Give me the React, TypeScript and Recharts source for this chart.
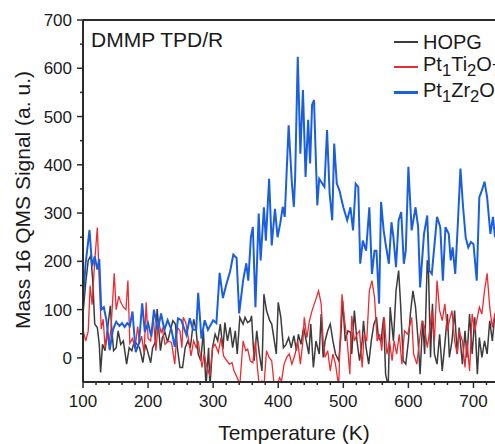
import React from 'react'
import { LineChart, Line, XAxis, YAxis, ReferenceLine } from 'recharts'

// [temperature (K), signal (a. u.)]
const hopg: [number, number][] = [
  [100, 91], [104, 153], [108, 202], [112, 212], [115, 160], [118, 70], [122, 63], [125, 28], [127, -30], [130, 28],
  [134, 15], [138, 63], [142, 108], [144, 63], [147, 15], [151, 21], [154, 56], [158, 28], [162, 35], [167, -13],
  [171, 21], [175, 15], [179, 35], [183, 28], [187, 21], [192, -10], [196, 28], [199, 15], [204, -10], [207, 21],
  [211, 32], [214, 101], [219, 15], [222, 42], [226, 53], [230, 32], [234, 56], [238, 77], [242, 70], [245, 21],
  [249, -20], [253, -20], [257, 21], [261, 35], [265, 21], [270, 80], [274, 56], [277, 8], [281, -6], [285, 56],
  [289, -60], [293, 21], [295, -60], [299, 21], [303, 49], [307, 35], [311, 70], [315, 18], [318, 73], [322, 35],
  [326, 63], [330, 21], [334, 56], [337, 8], [341, 84], [346, 70], [349, 84], [353, 73], [357, 77], [359, 87],
  [363, -6], [367, 56], [371, 8], [375, -27], [378, 132], [382, 98], [387, 77], [390, 70], [394, 35], [397, 8],
  [400, 115], [404, 84], [408, 21], [412, 28], [416, 42], [420, 21], [424, 46], [428, 15], [431, 49], [435, 28],
  [439, 63], [443, 35], [447, 8], [450, 70], [454, -20], [458, 35], [463, 8], [466, 91], [469, 1], [472, 35],
  [476, 56], [480, 70], [484, 35], [488, 8], [493, -6], [496, 42], [499, 118], [503, 35], [507, 56], [511, 53],
  [513, 8], [517, 98], [521, 35], [525, -6], [529, 35], [531, 77], [535, 21], [539, -13], [543, 35], [547, 70],
  [551, 84], [554, 42], [558, 35], [562, 84], [565, -34], [569, -60], [572, 105], [577, 35], [581, 139], [585, 181],
  [588, 112], [592, -6], [596, -13], [600, 35], [603, 91], [607, 139], [611, 105], [615, 35], [618, -34], [622, 77],
  [625, 8], [629, 202], [631, 174], [634, 1], [637, 112], [640, 8], [644, -13], [648, 49], [652, -27], [656, 28],
  [660, 91], [663, 1], [667, 35], [671, 98], [675, 8], [678, 63], [683, -13], [687, 56], [690, 1], [694, 91],
  [698, 8], [702, 84], [706, -34], [709, 42], [713, 1], [717, 35], [721, 8], [725, 77], [729, 35], [733, 91],
  [738, 30], [744, 110], [750, 60],
]

const ptTi: [number, number][] = [
  [100, 58], [104, 35], [108, 55], [111, 150], [114, 110], [118, 200], [122, 270], [125, 160], [128, 60], [131, 80],
  [134, 20], [137, 55], [140, 30], [143, 60], [148, 175], [151, 100], [155, 128], [158, 115], [162, 105], [166, 100],
  [169, 160], [172, 30], [176, 40], [180, 20], [184, 65], [187, 30], [190, 45], [194, 10], [197, 115], [200, 40],
  [204, 35], [208, 85], [212, 15], [216, 75], [220, 53], [222, 60], [226, 28], [231, 35], [236, 32], [241, -13],
  [245, 63], [249, 56], [252, 21], [254, 84], [258, 73], [262, 40], [266, 4], [270, 35], [274, 21], [277, 35],
  [280, 8], [283, -20], [286, 8], [290, -17], [295, -37], [299, 21], [303, 28], [308, 11], [312, 42], [316, 4],
  [321, -6], [325, -13], [329, -10], [332, -27], [337, -41], [341, -55], [346, 35], [350, 15], [353, 18], [357, -6],
  [361, -10], [365, 35], [368, -20], [371, -60], [375, -48], [378, -60], [382, 15], [386, 1], [390, -6], [394, -60],
  [398, -60], [402, -41], [405, -48], [409, -13], [413, 1], [417, 8], [421, -13], [426, 8], [430, 35], [434, -13],
  [438, 35], [440, 84], [444, 42], [448, 77], [452, 98], [457, 118], [462, 139], [466, 112], [469, 35], [472, 1],
  [476, 15], [480, -27], [484, 8], [488, -13], [493, -60], [495, 35], [498, 132], [502, 77], [506, 35], [510, -34],
  [513, 87], [517, 35], [521, 49], [525, 56], [529, -20], [532, 49], [536, 35], [540, 139], [544, 160], [548, 125],
  [552, 35], [556, 49], [559, 15], [563, 84], [567, 8], [571, 35], [575, -6], [578, 35], [582, 8], [586, 49],
  [590, -13], [594, 56], [599, 49], [605, 84], [608, 8], [613, -13], [617, 35], [621, 77], [625, 63], [629, 21],
  [632, 49], [636, 98], [640, 35], [644, 160], [648, 98], [652, 77], [656, 112], [660, 56], [663, 77], [667, 98],
  [671, 35], [675, 8], [678, 56], [683, 35], [687, -20], [690, 35], [694, -27], [698, 91], [702, 56], [706, 84],
  [709, 105], [713, 91], [717, 139], [721, 175], [725, 105], [729, 63], [733, 91], [738, 120], [744, 80], [750, 100],
]

const ptZr: [number, number][] = [
  [100, 120], [104, 195], [110, 265], [114, 190], [118, 210], [122, 183], [125, 205], [128, 100], [132, 105], [136, 78],
  [141, 16], [146, 58], [151, 75], [156, 66], [160, 72], [164, 64], [168, 72], [172, 66], [176, 96], [181, 12],
  [186, 30], [191, 113], [195, 54], [200, 72], [205, 44], [209, 100], [215, 58], [220, 92], [225, 58], [230, 78],
  [236, 58], [241, 23], [246, 82], [251, 78], [259, 47], [264, 82], [269, 58], [274, 58], [277, 135], [282, 40],
  [287, 78], [292, 58], [300, 78], [305, 72], [310, 176], [315, 124], [320, 151], [326, 179], [331, 214], [336, 207],
  [340, 92], [346, 160], [351, 196], [354, 160], [358, 250], [361, 271], [365, 105], [370, 299], [373, 202], [378, 312],
  [381, 243], [386, 371], [390, 233], [395, 309], [399, 250], [403, 278], [407, 313], [410, 292], [416, 482], [421, 361],
  [424, 313], [426, 375], [430, 624], [434, 423], [438, 555], [442, 375], [446, 493], [449, 403], [452, 524], [455, 534],
  [460, 316], [463, 371], [469, 358], [471, 354], [475, 472], [479, 340], [483, 285], [486, 444], [490, 361], [494, 347],
  [500, 312], [506, 285], [511, 312], [515, 264], [519, 361], [523, 354], [526, 195], [530, 243], [535, 222], [540, 312],
  [544, 174], [548, 222], [551, 222], [555, 112], [558, 323], [562, 264], [565, 236], [570, 195], [574, 281], [577, 250],
  [581, 188], [585, 285], [589, 302], [593, 195], [596, 222], [600, 396], [605, 264], [611, 312], [615, 271], [618, 146],
  [624, 257], [629, 295], [632, 181], [636, 174], [644, 292], [649, 271], [653, 160], [657, 271], [662, 257], [665, 202],
  [668, 229], [672, 174], [676, 278], [680, 392], [684, 313], [688, 250], [692, 229], [696, 240], [700, 236], [705, 160],
  [709, 333], [713, 347], [717, 365], [721, 333], [726, 257], [730, 292], [733, 250], [738, 300], [744, 270], [750, 290],
]

const xTicks = [100, 120, 140, 160, 180, 200, 220, 240, 260, 280, 300, 320, 340, 360, 380, 400, 420, 440, 460, 480, 500,
  520, 540, 560, 580, 600, 620, 640, 660, 680, 700, 720, 740]
const yTicks = [0, 50, 100, 150, 200, 250, 300, 350, 400, 450, 500, 550, 600, 650, 700]

const FONT = '"Liberation Sans", Arial, sans-serif'
const AXIS = '#2b2b2b'
const TICK = 6
const GAP = 5

const toRows = (pts: [number, number][]) => pts.map(([t, v]) => ({ t, v }))

function YTick(props: any) {
  const { x, y, payload } = props
  const ax = x + TICK + GAP
  const major = payload.value % 100 === 0
  return (
    <g>
      <line x1={ax - (major ? TICK : 3)} x2={ax} y1={y} y2={y} stroke={AXIS} strokeWidth={1.5} />
      {major && (
        <text x={x} y={y} dy="0.36em" textAnchor="end" fontSize={17} fontFamily={FONT} fill="#1a1a1a">
          {payload.value}
        </text>
      )}
    </g>
  )
}

function XTick(props: any) {
  const { x, y, payload } = props
  const ay = y - TICK - GAP
  const major = payload.value % 100 === 0
  return (
    <g>
      <line x1={x} x2={x} y1={ay} y2={ay + (major ? TICK : 3)} stroke={AXIS} strokeWidth={1.5} />
      {major && (
        <text x={x} y={y} dy="0.85em" textAnchor="middle" fontSize={17} fontFamily={FONT} fill="#1a1a1a">
          {payload.value}
        </text>
      )}
    </g>
  )
}

const legendItems = [
  { color: '#3c3c3c', width: 2, label: <>HOPG</> },
  { color: '#ee2a30', width: 2, label: <>Pt<sub>1</sub>Ti<sub>2</sub>O<sub>7</sub></> },
  { color: '#1a5fe0', width: 3, label: <>Pt<sub>1</sub>Zr<sub>2</sub>O<sub>7</sub></> },
]

function LegendBox() {
  return (
    <div style={{ position: 'absolute', left: 394, top: 29, fontFamily: FONT, fontSize: 20, color: '#1a1a1a' }}>
      {legendItems.map((it, i) => (
        <div key={i} style={{ display: 'flex', alignItems: 'center', height: 25.5, whiteSpace: 'nowrap' }}>
          <span style={{ display: 'inline-block', width: 24, height: it.width, background: it.color, marginRight: 5 }} />
          <span style={{ lineHeight: 1 }}>{it.label}</span>
        </div>
      ))}
    </div>
  )
}

export default function App() {
  return (
    <div style={{ position: 'absolute', left: 0, top: 0, width: 495, height: 444, overflow: 'hidden', background: '#fff' }}>
      <LineChart width={520} height={444} margin={{ top: 20, right: 14, left: 23, bottom: 22 }}>
        <XAxis
          type="number"
          dataKey="t"
          domain={[100, 750]}
          allowDataOverflow
          ticks={xTicks}
          interval={0}
          height={40}
          tickSize={TICK}
          tickMargin={GAP}
          tickLine={false}
          tick={<XTick />}
          axisLine={{ stroke: AXIS, strokeWidth: 2 }}
        />
        <YAxis
          type="number"
          domain={[-50, 700]}
          allowDataOverflow
          ticks={yTicks}
          interval={0}
          width={60}
          tickSize={TICK}
          tickMargin={GAP}
          tickLine={false}
          tick={<YTick />}
          axisLine={{ stroke: AXIS, strokeWidth: 2 }}
        />
        <ReferenceLine y={700} stroke={AXIS} strokeWidth={2} />
        <Line data={toRows(hopg)} dataKey="v" name="HOPG" stroke="#3c3c3c" strokeWidth={1.5} dot={false} isAnimationActive={false} />
        <Line data={toRows(ptTi)} dataKey="v" name="Pt1Ti2O7" stroke="#ee2a30" strokeWidth={1.3} dot={false} isAnimationActive={false} />
        <Line data={toRows(ptZr)} dataKey="v" name="Pt1Zr2O7" stroke="#1a5fe0" strokeWidth={2} dot={false} isAnimationActive={false} />
      </LineChart>
      <LegendBox />
      <div style={{ position: 'absolute', left: 91, top: 29, fontFamily: FONT, fontSize: 21, lineHeight: 1, color: '#1a1a1a', whiteSpace: 'nowrap' }}>
        DMMP TPD/R
      </div>
      <div
        style={{
          position: 'absolute', left: 22, top: 200, transform: 'translate(-50%, -50%) rotate(-90deg)',
          fontFamily: FONT, fontSize: 21, lineHeight: 1, color: '#1a1a1a', whiteSpace: 'nowrap',
        }}
      >
        Mass 16 QMS Signal (a. u.)
      </div>
      <div
        style={{
          position: 'absolute', left: 294, top: 432, transform: 'translate(-50%, -50%)',
          fontFamily: FONT, fontSize: 21, lineHeight: 1, color: '#1a1a1a', whiteSpace: 'nowrap',
        }}
      >
        Temperature (K)
      </div>
    </div>
  )
}
